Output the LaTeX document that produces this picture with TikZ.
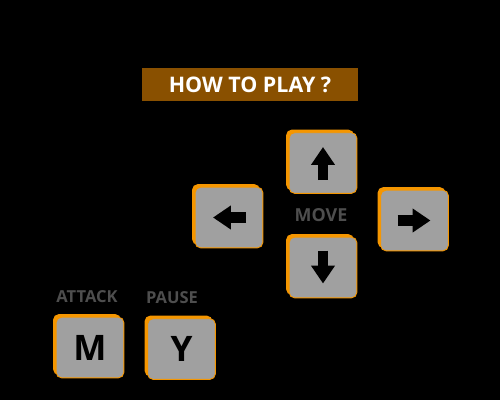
\documentclass[tikz,border=0pt]{standalone}
\usepackage{fontspec}
\setmainfont{Open Sans}
\usepackage{tikz}
\usetikzlibrary{arrows.meta, shadows, calc, positioning}

\definecolor{keygray}{RGB}{160,160,160}
\definecolor{keyorange}{RGB}{245,150,0}
\definecolor{banner}{RGB}{137,80,0}
\definecolor{labelgray}{RGB}{78,78,78}

\tikzset{
    keybox/.style={draw=keyorange, line width=0.5pt, fill=keygray, rounded corners=3pt,
        minimum width=38.5pt, minimum height=34.5pt, inner sep=0pt,
        general shadow={fill=keyorange, shadow xshift=-1.7pt, shadow yshift=1.7pt}},
    keyarrow/.style={line width=6.2pt, -{Triangle[width=13pt, length=10.2pt]}},
    keylabel/.style={text=labelgray, font=\bfseries\fontsize{9.4}{9.4}\selectfont}
}

\begin{document}
\begin{tikzpicture}[x=0.02cm, y=-0.02cm]
    \fill[black] (0, 0) rectangle (500, 400);

    \node[fill=banner, minimum width=122.5pt, minimum height=18.7pt, text=white,
        font=\bfseries\fontsize{12.2}{12.2}\selectfont] (title) at (250, 84.5) {HOW TO PLAY ?};

    \node[keybox] (kup) at (323, 163) {};
    \node[keybox] (kleft) at (229, 217.5) {};
    \node[keybox] (kright) at (414.5, 220.5) {};
    \node[keybox] (kdown) at (323, 267.5) {};
    \node[keybox, font=\bfseries\fontsize{20}{20}\selectfont] (km) at (90, 347.5) {M};
    \node[keybox, font=\bfseries\fontsize{20}{20}\selectfont] (ky) at (181.5, 349) {Y};

    \node[keylabel, font=\bfseries\fontsize{10.2}{10.2}\selectfont] (move) at (321, 215) {MOVE};
    \node[keylabel] (attack) at (87, 296.5) {ATTACK};
    \node[keylabel] (pause) at (172, 297.5) {PAUSE};

    \draw[keyarrow] ($(kup) + (0, 17)$) -- ++(0, -33);
    \draw[keyarrow] ($(kdown) + (0, -17)$) -- ++(0, 33);
    \draw[keyarrow] ($(kleft) + (17, 0)$) -- ++(-33, 0);
    \draw[keyarrow] ($(kright) + (-17, 0)$) -- ++(33, 0);
\end{tikzpicture}
\end{document}
